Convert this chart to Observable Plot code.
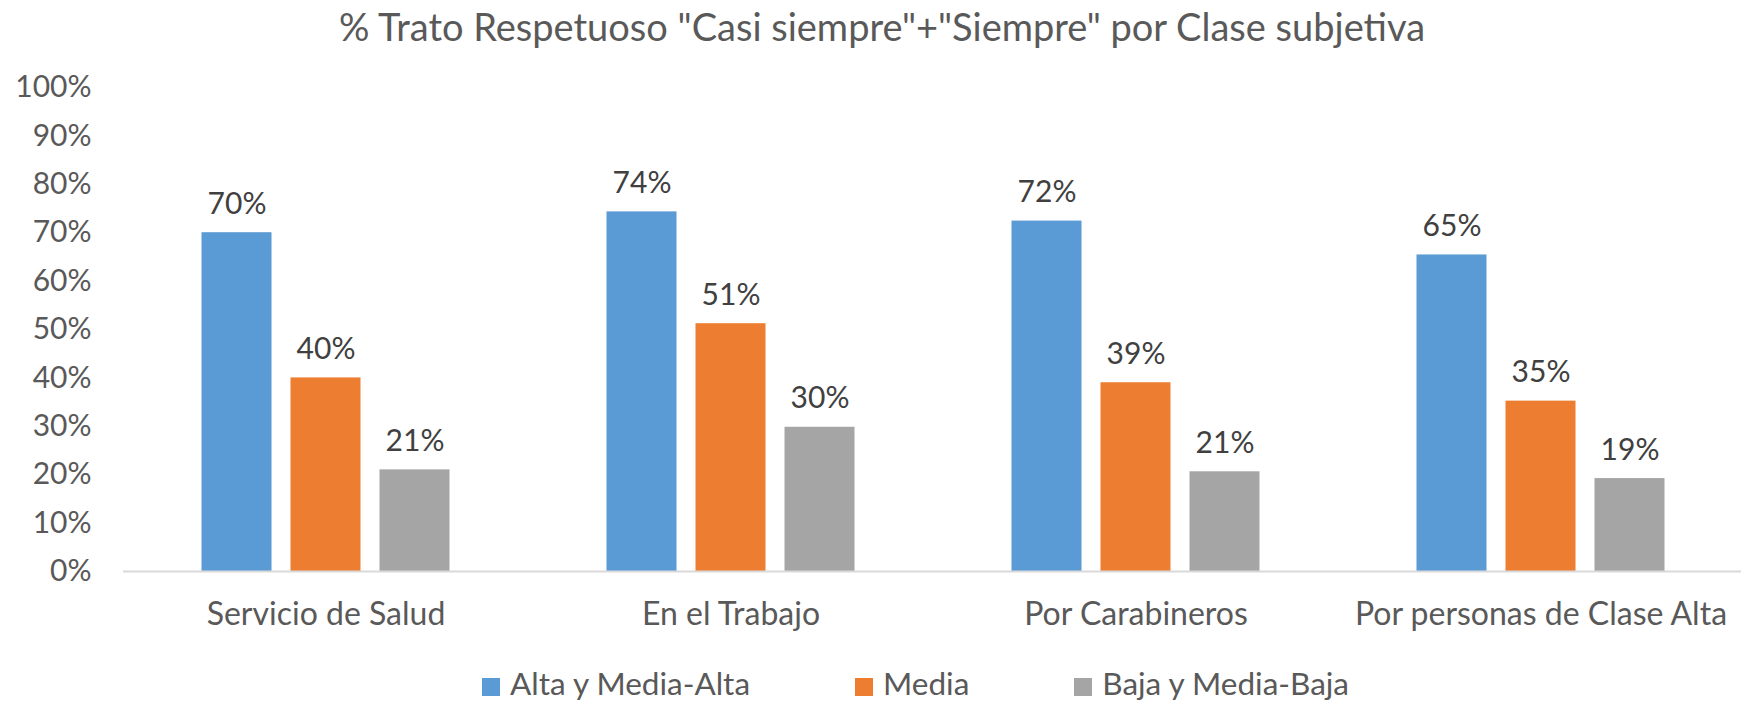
<!DOCTYPE html>
<html>
<head>
<meta charset="utf-8">
<script src="https://cdn.jsdelivr.net/npm/d3@7"></script>
<script src="https://cdn.jsdelivr.net/npm/@observablehq/plot@0.6"></script>
<style>
  html, body { margin: 0; padding: 0; background: #fff; }
  #wrap { position: relative; width: 1741px; height: 703px; overflow: hidden; font-family: Lato, "Open Sans", sans-serif; }
  #title { position: absolute; left: 0; top: 4px; width: 1764px; text-align: center; font-size: 38px; color: #595959; line-height: 1.2; white-space: nowrap; }
  #chart { position: absolute; left: 0; top: 60px; }
  #legend { position: absolute; left: 482px; top: 665px; display: flex; align-items: center; font-size: 31.5px; color: #595959; line-height: 1.2; white-space: nowrap; }
  .item { display: flex; align-items: center; margin-right: 105px; }
  .sw { width: 18px; height: 18px; margin-right: 10px; position: relative; top: 3px; }
</style>
</head>
<body>
<div id="wrap">
  <div id="title"></div>
  <div id="chart"></div>
  <div id="legend"></div>
</div>
<script>
const titleText = '% Trato Respetuoso "Casi siempre"+"Siempre" por Clase subjetiva';
const categories = ["Servicio de Salud", "En el Trabajo", "Por Carabineros", "Por personas de Clase Alta"];
const series = ["Alta y Media-Alta", "Media", "Baja y Media-Baja"];
const altaValues = [0.70, 0.743, 0.724, 0.654];
const mediaValues = [0.40, 0.512, 0.39, 0.352];
const bajaValues = [0.21, 0.298, 0.206, 0.192];
const colors = ["#5B9BD5", "#ED7D31", "#A5A5A5"];
const yTicks = [0, 0.1, 0.2, 0.3, 0.4, 0.5, 0.6, 0.7, 0.8, 0.9, 1.0];

const valuesBySeries = [altaValues, mediaValues, bajaValues];
const data = [];
categories.forEach((c, i) => {
  series.forEach((s, j) => {
    data.push({category: c, series: s, value: valuesBySeries[j][i]});
  });
});

const fmt = d3.format(".0%");
document.getElementById("title").textContent = titleText;

const chart = Plot.plot({
  width: 1741,
  height: 600,
  marginTop: 27,
  marginBottom: 89,
  marginLeft: 122.5,
  marginRight: -1.5,
  style: {fontFamily: "Lato, 'Open Sans', sans-serif", background: "transparent", overflow: "visible"},
  fx: {domain: categories, padding: 0, label: null},
  x: {domain: series, paddingInner: 0.218, paddingOuter: 0.871, axis: null},
  y: {domain: [0, 1], label: null},
  color: {domain: series, range: colors},
  marks: [
    Plot.axisY({ticks: yTicks, tickFormat: fmt, tickSize: 0, tickPadding: 32, fontSize: 30, fill: "#595959", label: null}),
    Plot.axisFx({anchor: "bottom", tickSize: 0, tickPadding: 31, fontSize: 32, fill: "#595959", label: null}),
    Plot.barY(data, {fx: "category", x: "series", y: "value", fill: "series"}),
    Plot.ruleY([0], {stroke: "#D9D9D9", strokeWidth: 2}),
    Plot.text(data, {fx: "category", x: "series", y: "value", text: d => fmt(d.value), lineAnchor: "bottom", dy: -19, fontSize: 30, fill: "#404040"})
  ]
});
document.getElementById("chart").appendChild(chart);

const legend = document.getElementById("legend");
series.forEach((s, j) => {
  const item = document.createElement("div");
  item.className = "item";
  const sw = document.createElement("div");
  sw.className = "sw";
  sw.style.background = colors[j];
  const label = document.createElement("span");
  label.textContent = s;
  item.appendChild(sw);
  item.appendChild(label);
  legend.appendChild(item);
});
</script>
</body>
</html>
